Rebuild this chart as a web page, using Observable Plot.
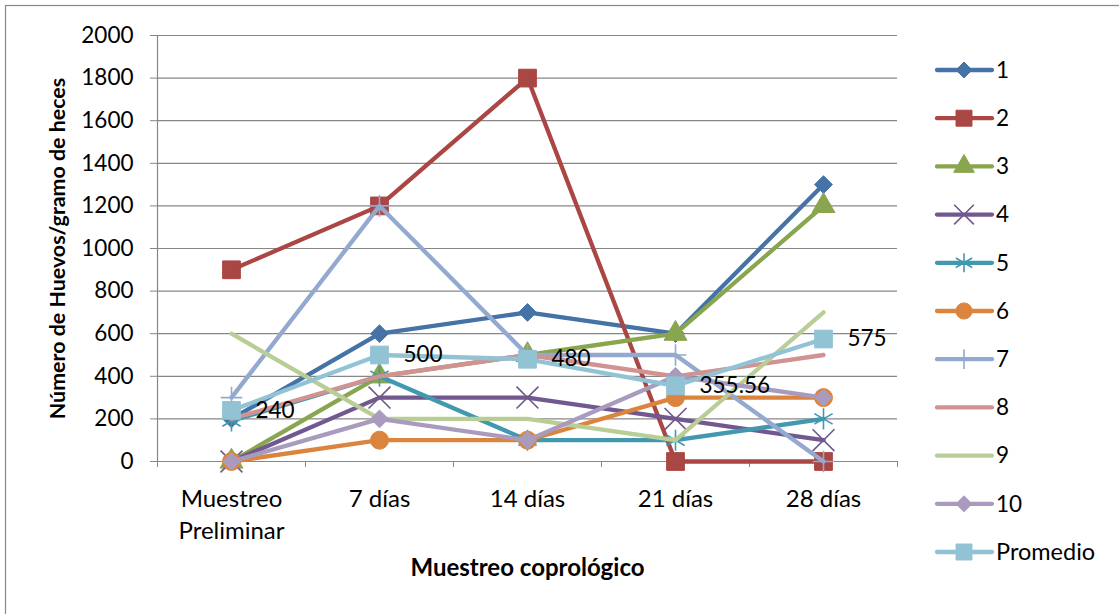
<!DOCTYPE html>
<html><head><meta charset="utf-8">
<script src="https://cdn.jsdelivr.net/npm/d3@7"></script>
<script src="https://cdn.jsdelivr.net/npm/@observablehq/plot@0.6"></script>
<style>
body{margin:0;background:#fff}
#wrap{position:relative;width:1119px;height:614px;overflow:hidden;background:#fff}
</style></head><body><div id="wrap"></div>
<script>
// ---- data ----
const categories = ["Muestreo\nPreliminar", "7 días", "14 días", "21 días", "28 días"];
const seriesNames = ["1", "2", "3", "4", "5", "6", "7", "8", "9", "10", "Promedio"];
const s1 = [200, 600, 700, 600, 1300];
const s2 = [900, 1200, 1800, 0, 0];
const s3 = [0, 400, 500, 600, 1200];
const s4 = [0, 300, 300, 200, 100];
const s5 = [190, 400, 100, 100, 200];
const s6 = [0, 100, 100, 300, 300];
const s7 = [300, 1200, 500, 500, 0];
const s8 = [200, 400, 500, 400, 500];
const s9 = [600, 200, 200, 100, 700];
const s10 = [0, 200, 100, 400, 300];
const promedio = [240, 500, 480, 355.56, 575];
const promedioLabels = ["240", "500", "480", "355.56", "575"];
const yTicks = [0, 200, 400, 600, 800, 1000, 1200, 1400, 1600, 1800, 2000];
const yTitle = "Número de Huevos/gramo de heces";
const xTitle = "Muestreo coprológico";

// ---- styles ----
const colors = ["#4572A7", "#AA4643", "#89A54E", "#71588F", "#4198AF", "#DB843D", "#93A9CF", "#D19392", "#B9CD96", "#A99BBD", "#92C3D4"];
const symbols = ["diamond2", "square", "triangle", "times", "asterisk", "circle", "plus", null, null, "diamond2", "square"];
const radii = [8, 10, 8.5, 10, 10, 9, 7, 0, 0, 8, 10];
const stroked = {times: true, asterisk: true, plus: true};

const allSeries = [s1, s2, s3, s4, s5, s6, s7, s8, s9, s10, promedio];
const rows = allSeries.map((vals, k) => vals.map((v, i) => ({series: seriesNames[k], k, i, value: v})));

const font = "Lato, 'Open Sans', sans-serif";
const marks = [
  Plot.ruleY(yTicks, {stroke: "#878787", strokeWidth: 1.2}),
  Plot.ruleX([-0.5], {y1: 0, y2: 2000, stroke: "#878787", strokeWidth: 1.2}),
  Plot.axisY({ticks: yTicks, tickSize: 7, tickPadding: 17, stroke: "#878787", fontSize: 22.5, label: null, tickFormat: d => String(d)}),
  Plot.axisX({ticks: [-0.5, 0.5, 1.5, 2.5, 3.5, 4.5], tickSize: 6, tickFormat: () => "", stroke: "#878787", label: null}),
  Plot.text(categories, {x: (d, i) => i, y: 0, text: d => d, dy: 23, lineAnchor: "top", lineHeight: 1.34, fontSize: 24, fill: "#000"}),
  Plot.text([yTitle], {frameAnchor: "left", rotate: -90, dx: -99, textAnchor: "middle", lineAnchor: "middle", fontWeight: "bold", fontSize: 21.4, fill: "#000"}),
  Plot.text([xTitle], {frameAnchor: "bottom", dy: 107, textAnchor: "middle", lineAnchor: "middle", fontWeight: "bold", fontSize: 24, fill: "#000"})
];
rows.forEach((r, k) => {
  marks.push(Plot.line(r, {x: "i", y: "value", stroke: colors[k], strokeWidth: 4.3, strokeLinejoin: "round", strokeLinecap: "round"}));
  const sym = symbols[k];
  if (sym) {
    if (stroked[sym]) marks.push(Plot.dot(r, {x: "i", y: "value", symbol: () => sym, r: radii[k], fill: "none", stroke: colors[k], strokeWidth: 1.6}));
    else marks.push(Plot.dot(r, {x: "i", y: "value", symbol: () => sym, r: radii[k], fill: colors[k], stroke: colors[k], strokeWidth: 1}));
  }
});
marks.push(Plot.text(promedio, {x: (d, i) => i, y: d => d, text: (d, i) => promedioLabels[i], dx: 24, textAnchor: "start", fontSize: 22.5, fill: "#000"}));

const chart = Plot.plot({
  width: 1119, height: 614,
  marginLeft: 157, marginRight: 222, marginTop: 35, marginBottom: 153,
  x: {domain: [-0.5, 4.5], axis: null},
  y: {domain: [0, 2000], axis: null},
  symbol: {type: "identity"},
  style: {fontFamily: font, fontSize: "22px", color: "#000", background: "#fff", overflow: "visible"},
  marks
});
document.getElementById("wrap").appendChild(chart);

// ---- legend and border (drawn into the same SVG) ----
const svg = d3.select(chart);
svg.append("rect").attr("x", 5.5).attr("y", 5.5).attr("width", 1300).attr("height", 800)
  .attr("fill", "none").attr("stroke", "#888").attr("stroke-width", 1.2);
const symMap = {diamond2: d3.symbolDiamond2, square: d3.symbolSquare, triangle: d3.symbolTriangle, times: d3.symbolTimes, asterisk: d3.symbolAsterisk, circle: d3.symbolCircle, plus: d3.symbolPlus};
const lg = svg.append("g").attr("font-family", font).attr("font-size", 22.5).attr("text-anchor", "start");
seriesNames.forEach((name, k) => {
  const y = 70 + k * 48.2;
  const g = lg.append("g").attr("transform", `translate(0,${y})`);
  g.append("line").attr("x1", 937).attr("x2", 992).attr("y1", 0).attr("y2", 0)
    .attr("stroke", colors[k]).attr("stroke-width", 4.3).attr("stroke-linecap", "round");
  const sym = symbols[k];
  if (sym) {
    const rr = radii[k] * 0.9;
    const p = d3.symbol(symMap[sym], rr * rr * Math.PI)();
    const path = g.append("path").attr("d", p).attr("transform", "translate(964,0)");
    if (stroked[sym]) path.attr("fill", "none").attr("stroke", colors[k]).attr("stroke-width", 1.6);
    else path.attr("fill", colors[k]).attr("stroke", colors[k]);
  }
  g.append("text").attr("x", 996).attr("y", 0).attr("dy", "0.35em").attr("fill", "#000")
    .attr("text-anchor", "start").attr("font-size", k === 10 ? 23.5 : 22.5).text(name);
});
</script></body></html>
